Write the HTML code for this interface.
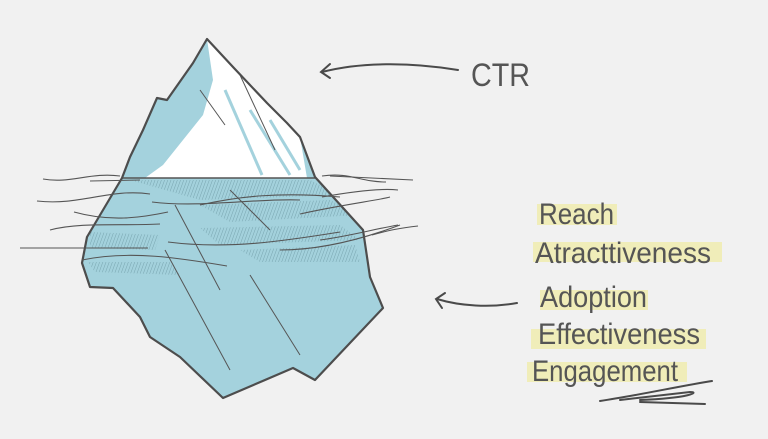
<!DOCTYPE html>
<html><head><meta charset="utf-8"><style>
html,body{margin:0;padding:0;background:#f1f1f1;}
svg{display:block}
text{font-family:"Liberation Sans",sans-serif;fill:#555;}
</style></head><body>
<svg width="768" height="439" viewBox="0 0 768 439" xmlns="http://www.w3.org/2000/svg">
<defs>
<pattern id="h" width="3" height="6" patternUnits="userSpaceOnUse" patternTransform="rotate(20)">
<rect width="3" height="6" fill="#a3d1dc"/><line x1="0" y1="0" x2="0" y2="6" stroke="#5f8b96" stroke-width="0.8"/>
</pattern>
<clipPath id="ib"><polygon points="207,39 233,67 267,103 287,123 300,137 315,177 363,230 370,277 383,308 315,380 293,368 223,398 180,357 150,337 140,317 113,288 90,287 82,263 87,237 122,178 130,157 143,130 157,98 167,100 193,63"/></clipPath>
</defs>
<rect width="768" height="439" fill="#f1f1f1"/>
<polygon points="207,39 233,67 267,103 287,123 300,137 315,177 363,230 370,277 383,308 315,380 293,368 223,398 180,357 150,337 140,317 113,288 90,287 82,263 87,237 122,178 130,157 143,130 157,98 167,100 193,63" fill="#a4d2dd"/>
<polygon points="207,39 233,67 267,103 287,123 300,137 307,178 145,178 163,165 203,115 213,80" fill="#ffffff"/>
<polygon points="157,98 167,100 190,110 175,140 160,160 140,170 130,157 143,130" fill="#a4d2dd"/>
<g stroke="#a4d2dd" stroke-width="3">
<line x1="225" y1="90" x2="262" y2="175"/><line x1="250" y1="110" x2="290" y2="175"/><line x1="270" y1="120" x2="300" y2="170"/><line x1="155" y1="115" x2="175" y2="125"/><line x1="140" y1="145" x2="160" y2="150"/>
</g>
<g fill="url(#h)" opacity="0.8" clip-path="url(#ib)">
<path d="M130,180 L310,180 L340,195 L200,200 Z"/>
<path d="M200,205 L330,200 L360,215 L230,222 Z"/>
<path d="M200,228 L340,225 L360,240 L220,245 Z"/>
<path d="M90,232 L160,235 L155,250 L90,248 Z"/>
<path d="M240,250 L355,245 L360,262 L260,262 Z"/>
<path d="M88,262 L170,262 L180,275 L95,272 Z"/>
</g>
<g stroke="#555" stroke-width="1" fill="none">
<line x1="175" y1="205" x2="220" y2="290"/><line x1="230" y1="190" x2="270" y2="230"/><line x1="165" y1="250" x2="230" y2="370"/><line x1="250" y1="275" x2="300" y2="355"/>
<line x1="200" y1="90" x2="225" y2="125"/><line x1="240" y1="75" x2="275" y2="150"/>
</g>
<line x1="122" y1="178" x2="315" y2="178" stroke="#555" stroke-width="1.5"/>
<polygon points="207,39 233,67 267,103 287,123 300,137 315,177 363,230 370,277 383,308 315,380 293,368 223,398 180,357 150,337 140,317 113,288 90,287 82,263 87,237 122,178 130,157 143,130 157,98 167,100 193,63" fill="none" stroke="#4d4d4d" stroke-width="2.2" stroke-linejoin="round"/>
<g stroke="#555" stroke-width="1.1" fill="none">
<path d="M43,179 C70,184 90,172 120,176"/>
<path d="M90,181 L140,180"/>
<path d="M37,201 C80,206 110,188 150,194"/>
<path d="M74,212 C110,222 140,218 168,212"/>
<path d="M50,230 C80,222 120,226 160,224"/>
<path d="M152,202 C200,208 260,198 300,200"/>
<path d="M200,205 C240,196 280,192 340,197"/>
<path d="M168,242 C230,250 290,240 340,232"/>
<path d="M20,248 L148,248"/>
<path d="M82,260 C130,250 180,258 227,266"/>
<path d="M280,250 C320,250 360,240 400,225"/>
<path d="M322,176 C350,172 360,182 386,182"/>
<path d="M330,176 L413,180"/>
<path d="M322,197 C350,192 380,188 398,190"/>
<path d="M300,214 C340,205 380,200 390,197"/>
<path d="M320,240 C350,236 370,230 398,225"/>
<path d="M372,235 C390,230 400,228 418,226"/>
</g>
<g stroke="#4a4a4a" stroke-width="2" fill="none" stroke-linecap="round">
<path d="M458,70 C410,62 360,62 322,72"/>
<path d="M330,64 L321,72 L330,78"/>
<path d="M517,303 C490,308 460,306 437,299"/>
<path d="M445,293 L436,299 L442,308"/>
<path d="M600,401 C640,395 680,386 712,381 M620,400 L690,392 C700,392 690,398 640,400 M640,402 L705,404"/>
</g>
<g fill="#f0edb9">
<rect x="537" y="204" width="80" height="21"/>
<rect x="533" y="242" width="189" height="20"/>
<rect x="540" y="290" width="108" height="20"/>
<rect x="531" y="329" width="175" height="20"/>
<rect x="527" y="362" width="160" height="20"/>
</g>
<text x="471" y="86" font-size="32" textLength="59" lengthAdjust="spacingAndGlyphs">CTR</text>
<text x="539" y="224" font-size="30" textLength="75" lengthAdjust="spacingAndGlyphs">Reach</text>
<text x="535" y="263" font-size="30" textLength="176" lengthAdjust="spacingAndGlyphs">Atracttiveness</text>
<text x="540" y="307" font-size="30" textLength="107" lengthAdjust="spacingAndGlyphs">Adoption</text>
<text x="538" y="344" font-size="30" textLength="162" lengthAdjust="spacingAndGlyphs">Effectiveness</text>
<text x="532" y="381" font-size="30" textLength="146" lengthAdjust="spacingAndGlyphs">Engagement</text>
</svg>
</body></html>
